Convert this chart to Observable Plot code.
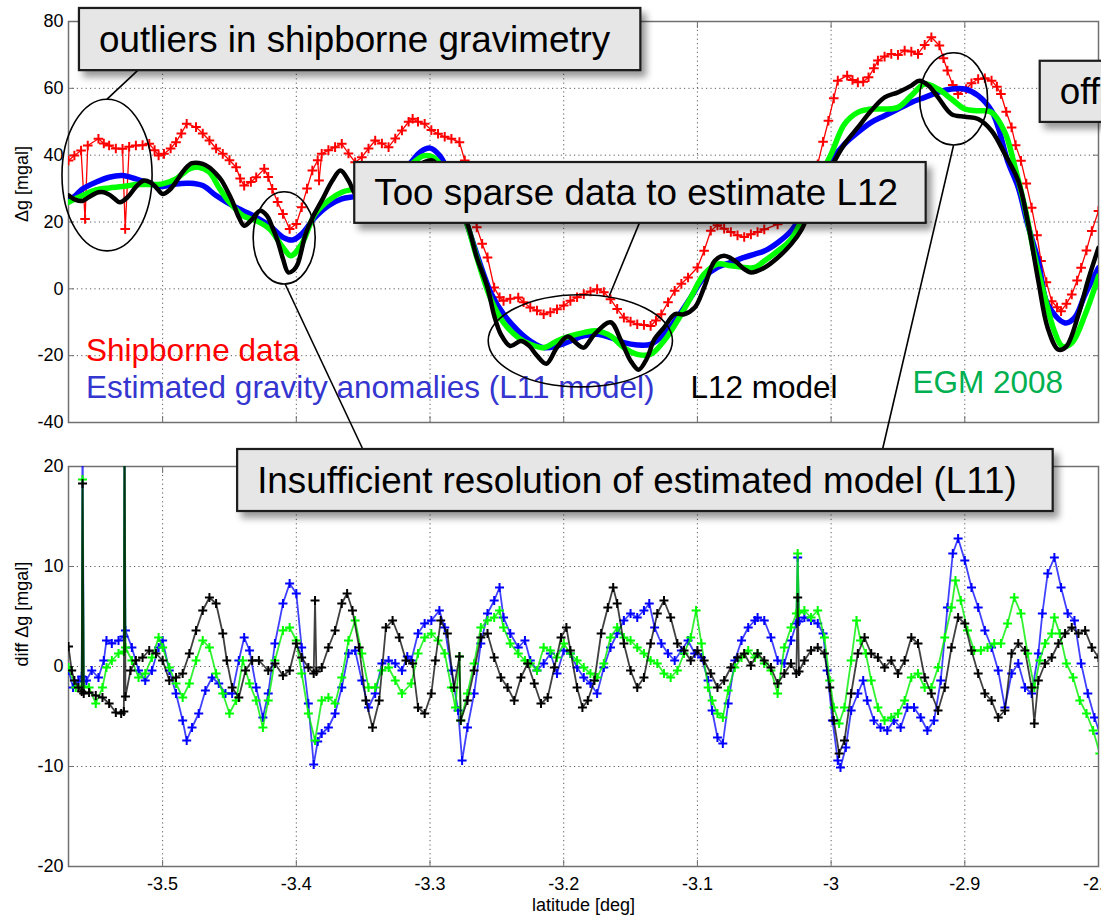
<!DOCTYPE html>
<html><head><meta charset="utf-8">
<script src="https://cdn.jsdelivr.net/npm/d3@7"></script>
<script src="https://cdn.jsdelivr.net/npm/@observablehq/plot@0.6"></script>
<style>
body{margin:0;background:#fff}
#fig{position:relative;width:1101px;height:919px;overflow:hidden;font-family:"Liberation Sans",Arial,Helvetica,sans-serif}
#fig svg{position:absolute;left:0}
</style>
</head><body><div id="fig"></div>
<script>
// ---------- tick labels ----------
const latTicks = [-3.5,-3.4,-3.3,-3.2,-3.1,-3.0,-2.9,-2.8];
const topTicks = [-40,-20,0,20,40,60,80];
const diffTicks = [-20,-10,0,10,20];

// ---------- top panel series: [latitude, Δg mgal] ----------
const shipTop = [[-3.5704,38.4],[-3.566,39.9],[-3.561,41.4],[-3.558,20.9],[-3.556,42.9],[-3.548,44.9],[-3.544,43.5],[-3.540,42.9],[-3.535,42.0],[-3.530,41.9],[-3.528,17.9],[-3.525,42.5],[-3.520,42.9],[-3.515,43.0],[-3.510,43.4],[-3.506,41.5],[-3.503,39.9],[-3.499,40.4],[-3.494,42.0],[-3.490,43.9],[-3.486,46.5],[-3.482,49.4],[-3.475,48.4],[-3.470,46.5],[-3.465,44.4],[-3.460,42.0],[-3.455,40.4],[-3.450,38.5],[-3.445,36.4],[-3.442,33.0],[-3.439,30.9],[-3.434,32.0],[-3.430,33.4],[-3.424,35.9],[-3.421,33.5],[-3.418,29.9],[-3.414,26.0],[-3.410,22.4],[-3.405,17.9],[-3.400,19.4],[-3.396,24.4],[-3.392,30.0],[-3.388,35.4],[-3.384,38.5],[-3.383,32.4],[-3.381,40.4],[-3.376,41.5],[-3.371,42.4],[-3.366,43.4],[-3.361,40.5],[-3.356,37.9],[-3.351,39.4],[-3.346,42.0],[-3.341,44.4],[-3.336,43.5],[-3.331,42.4],[-3.326,45.0],[-3.321,47.4],[-3.316,50.0],[-3.313,50.9],[-3.309,50.0],[-3.304,49.4],[-3.299,47.5],[-3.294,46.4],[-3.289,45.5],[-3.284,44.9],[-3.278,43.9],[-3.274,38.4],[-3.270,28.0],[-3.265,18.4],[-3.261,13.5],[-3.257,9.4],[-3.252,0.4],[-3.248,-2.5],[-3.245,-3.6],[-3.240,-3.0],[-3.234,-2.6],[-3.230,-4.0],[-3.225,-5.6],[-3.220,-6.5],[-3.215,-7.6],[-3.210,-7.0],[-3.205,-6.1],[-3.200,-5.0],[-3.195,-3.6],[-3.190,-2.5],[-3.185,-1.6],[-3.180,-0.8],[-3.175,-0.1],[-3.170,-1.0],[-3.165,-3.1],[-3.160,-6.0],[-3.155,-8.6],[-3.150,-9.8],[-3.145,-10.6],[-3.140,-10.8],[-3.135,-11.1],[-3.131,-9.5],[-3.127,-7.6],[-3.122,-4.0],[-3.117,-0.6],[-3.112,1.5],[-3.107,3.4],[-3.100,6.4],[-3.095,11.4],[-3.090,17.4],[-3.085,19.0],[-3.080,18.0],[-3.075,17.0],[-3.070,16.0],[-3.065,15.5],[-3.060,16.3],[-3.055,17.0],[-3.050,17.8],[-3.040,19.3],[-3.030,22.0],[-3.022,26.3],[-3.015,31.5],[-3.010,37.3],[-3.006,44.0],[-3.002,50.3],[-2.998,57.0],[-2.995,62.3],[-2.988,63.8],[-2.984,62.5],[-2.980,61.8],[-2.976,62.0],[-2.972,63.3],[-2.968,66.0],[-2.965,68.3],[-2.960,69.5],[-2.955,70.3],[-2.950,70.0],[-2.945,71.3],[-2.940,71.0],[-2.935,70.3],[-2.930,73.0],[-2.925,75.3],[-2.919,72.8],[-2.916,69.0],[-2.913,65.3],[-2.909,61.0],[-2.905,58.3],[-2.899,59.8],[-2.895,61.5],[-2.890,62.8],[-2.885,63.0],[-2.880,62.3],[-2.876,60.5],[-2.873,58.3],[-2.869,53.0],[-2.865,48.3],[-2.862,43.0],[-2.858,38.3],[-2.854,31.5],[-2.850,24.3],[-2.846,16.0],[-2.843,8.3],[-2.839,2.0],[-2.835,-3.7],[-2.831,-5.5],[-2.828,-6.7],[-2.824,-4.5],[-2.820,-1.7],[-2.816,2.5],[-2.813,6.3],[-2.809,11.5],[-2.805,17.3],[-2.800,23.3]];

const l11Top = [[-3.5704,26.4],[-3.565,28.0],[-3.560,29.9],[-3.550,31.9],[-3.540,33.4],[-3.530,33.9],[-3.520,32.9],[-3.510,31.6],[-3.500,30.6],[-3.490,31.4],[-3.480,31.6],[-3.470,30.9],[-3.460,27.9],[-3.450,25.4],[-3.440,23.4],[-3.430,21.4],[-3.420,18.9],[-3.410,15.4],[-3.403,14.6],[-3.396,16.4],[-3.386,21.4],[-3.376,24.9],[-3.366,26.9],[-3.356,27.6],[-3.345,28.5],[-3.335,30.5],[-3.325,33.5],[-3.315,37.5],[-3.307,41.0],[-3.300,42.1],[-3.293,40.0],[-3.285,34.0],[-3.278,26.0],[-3.272,19.0],[-3.265,10.4],[-3.254,-1.6],[-3.245,-7.6],[-3.234,-12.6],[-3.225,-15.6],[-3.215,-17.6],[-3.205,-17.1],[-3.195,-15.6],[-3.185,-14.1],[-3.175,-13.6],[-3.165,-14.6],[-3.155,-16.1],[-3.145,-16.8],[-3.135,-16.6],[-3.125,-13.6],[-3.115,-8.6],[-3.105,-2.6],[-3.095,3.4],[-3.085,6.4],[-3.075,7.9],[-3.065,9.4],[-3.057,10.4],[-3.050,11.3],[-3.040,13.8],[-3.030,17.3],[-3.020,23.3],[-3.010,31.3],[-3.000,38.3],[-2.990,43.3],[-2.980,46.8],[-2.970,49.8],[-2.960,51.8],[-2.950,53.8],[-2.940,55.8],[-2.930,57.3],[-2.920,58.8],[-2.910,59.8],[-2.900,59.8],[-2.890,57.8],[-2.880,53.3],[-2.875,48.3],[-2.868,38.3],[-2.860,30.3],[-2.853,19.3],[-2.845,8.3],[-2.838,-4.7],[-2.825,-10.2],[-2.818,-8.7],[-2.810,-1.7],[-2.800,6.3]];

const egmTop = [[-3.5704,25.9],[-3.560,27.9],[-3.550,29.6],[-3.540,30.2],[-3.530,30.6],[-3.520,31.2],[-3.510,31.2],[-3.500,31.4],[-3.490,32.9],[-3.480,35.9],[-3.473,36.4],[-3.465,34.9],[-3.458,30.4],[-3.450,25.9],[-3.440,21.9],[-3.430,20.4],[-3.420,17.9],[-3.410,12.4],[-3.404,9.9],[-3.396,13.4],[-3.386,22.4],[-3.376,26.4],[-3.366,28.9],[-3.356,29.9],[-3.345,31.0],[-3.335,32.5],[-3.325,34.5],[-3.315,37.0],[-3.305,39.8],[-3.298,39.5],[-3.290,36.0],[-3.280,27.0],[-3.272,19.0],[-3.265,9.4],[-3.254,-3.6],[-3.245,-10.1],[-3.234,-14.6],[-3.225,-16.6],[-3.215,-17.6],[-3.205,-15.6],[-3.195,-14.1],[-3.185,-13.1],[-3.175,-12.6],[-3.165,-14.1],[-3.155,-17.6],[-3.145,-19.6],[-3.135,-19.6],[-3.125,-15.6],[-3.115,-9.6],[-3.105,-2.6],[-3.095,4.4],[-3.085,7.4],[-3.075,6.9],[-3.065,6.4],[-3.057,6.4],[-3.050,8.3],[-3.040,11.3],[-3.030,14.8],[-3.020,22.3],[-3.010,32.3],[-3.000,40.3],[-2.990,49.3],[-2.980,52.8],[-2.970,53.8],[-2.960,53.8],[-2.950,54.3],[-2.940,57.8],[-2.930,61.3],[-2.920,59.8],[-2.910,56.8],[-2.900,53.8],[-2.890,53.3],[-2.880,52.8],[-2.870,46.8],[-2.863,37.3],[-2.855,24.3],[-2.848,10.3],[-2.840,-2.7],[-2.833,-12.7],[-2.827,-17.2],[-2.820,-16.2],[-2.810,-7.7],[-2.800,3.8]];

const l12Top = [[-3.5704,28.0],[-3.565,26.6],[-3.560,26.3],[-3.555,27.5],[-3.548,28.9],[-3.544,28.9],[-3.540,28.2],[-3.536,27.0],[-3.532,25.9],[-3.526,27.5],[-3.520,30.5],[-3.514,32.4],[-3.509,31.8],[-3.505,30.4],[-3.500,28.4],[-3.495,29.5],[-3.490,32.0],[-3.484,35.5],[-3.478,37.6],[-3.470,37.4],[-3.465,36.3],[-3.460,34.4],[-3.456,32.5],[-3.453,30.4],[-3.448,26.4],[-3.443,21.4],[-3.439,18.9],[-3.434,20.4],[-3.427,23.4],[-3.422,21.9],[-3.418,18.5],[-3.414,14.4],[-3.410,9.0],[-3.406,4.9],[-3.402,5.6],[-3.399,7.4],[-3.393,16.4],[-3.387,22.0],[-3.381,26.4],[-3.373,32.4],[-3.367,35.4],[-3.361,32.4],[-3.356,28.4],[-3.350,26.5],[-3.345,27.0],[-3.335,29.0],[-3.325,32.0],[-3.315,35.0],[-3.305,37.8],[-3.298,38.4],[-3.290,34.0],[-3.280,26.0],[-3.272,19.4],[-3.265,9.4],[-3.257,0.4],[-3.252,-8.0],[-3.247,-13.6],[-3.240,-17.1],[-3.232,-15.6],[-3.226,-17.0],[-3.220,-20.0],[-3.213,-22.4],[-3.205,-17.5],[-3.197,-14.3],[-3.190,-16.5],[-3.185,-17.6],[-3.177,-13.6],[-3.165,-10.0],[-3.157,-15.6],[-3.150,-21.5],[-3.144,-24.2],[-3.138,-21.0],[-3.132,-15.0],[-3.125,-11.6],[-3.117,-7.6],[-3.110,-7.6],[-3.102,-5.6],[-3.095,0.4],[-3.087,8.4],[-3.080,9.9],[-3.072,8.4],[-3.065,5.9],[-3.060,4.9],[-3.050,6.3],[-3.040,9.3],[-3.030,13.3],[-3.022,17.8],[-3.015,24.3],[-3.007,30.3],[-3.000,36.3],[-2.990,43.3],[-2.980,48.3],[-2.970,53.3],[-2.960,57.3],[-2.950,58.8],[-2.940,60.8],[-2.934,62.3],[-2.927,60.8],[-2.920,57.3],[-2.910,52.3],[-2.900,51.5],[-2.890,50.8],[-2.880,47.3],[-2.870,40.3],[-2.860,32.3],[-2.853,20.3],[-2.845,2.3],[-2.838,-11.7],[-2.830,-18.2],[-2.824,-17.2],[-2.815,-7.7],[-2.808,2.3],[-2.800,12.3]];

// ---------- bottom panel series: [latitude, diff Δg mgal] ----------
const l11Diff = [[-3.5704,-0.4],[-3.567,-2.1],[-3.563,-1.4],[-3.5605,-1.0],[-3.5599,25],[-3.5590,-1.5],[-3.557,-1.4],[-3.553,-0.4],[-3.548,-1.1],[-3.544,0.6],[-3.542,2.6],[-3.538,2.3],[-3.533,2.6],[-3.5290,3.0],[-3.5285,25],[-3.5278,3.6],[-3.523,1.9],[-3.518,-0.4],[-3.513,-1.4],[-3.508,-0.4],[-3.503,1.9],[-3.500,2.6],[-3.495,-0.4],[-3.490,-2.7],[-3.485,-5.4],[-3.482,-7.4],[-3.478,-6.1],[-3.473,-4.7],[-3.468,-2.4],[-3.463,-1.1],[-3.458,-1.7],[-3.453,-2.7],[-3.448,-2.7],[-3.443,0.6],[-3.439,2.9],[-3.435,1.6],[-3.430,-2.1],[-3.425,-5.1],[-3.421,-2.7],[-3.416,2.3],[-3.410,6.3],[-3.405,8.3],[-3.400,7.3],[-3.396,1.9],[-3.391,-3.7],[-3.387,-9.8],[-3.384,-7.5],[-3.381,-6.7],[-3.376,-6.1],[-3.371,-4.7],[-3.366,-2.1],[-3.361,1.3],[-3.356,1.6],[-3.351,-1.4],[-3.346,-4.1],[-3.341,-2.7],[-3.336,0.3],[-3.331,0.6],[-3.326,0.3],[-3.321,-0.4],[-3.317,1.0],[-3.314,0.6],[-3.309,3.3],[-3.304,4.3],[-3.299,4.6],[-3.293,5.6],[-3.289,3.9],[-3.284,-0.4],[-3.279,-4.4],[-3.276,-9.4],[-3.272,-6.1],[-3.267,-2.7],[-3.262,2.3],[-3.257,5.3],[-3.252,6.6],[-3.248,7.9],[-3.245,4.9],[-3.240,3.3],[-3.234,1.9],[-3.229,2.6],[-3.225,0.6],[-3.220,-0.4],[-3.215,0.3],[-3.210,1.3],[-3.205,-0.7],[-3.200,1.6],[-3.195,1.3],[-3.190,-0.1],[-3.185,-1.1],[-3.180,-1.7],[-3.175,-2.7],[-3.170,-0.1],[-3.165,1.9],[-3.160,3.3],[-3.155,4.6],[-3.150,5.3],[-3.145,4.9],[-3.140,5.6],[-3.136,6.3],[-3.132,3.9],[-3.127,2.3],[-3.122,1.3],[-3.117,0.6],[-3.112,1.6],[-3.107,2.6],[-3.102,1.3],[-3.097,0.9],[-3.092,-1.4],[-3.089,-4.4],[-3.085,-7.1],[-3.081,-7.7],[-3.077,-3.7],[-3.072,0.6],[-3.067,2.6],[-3.062,3.9],[-3.057,4.6],[-3.055,4.9],[-3.050,4.6],[-3.045,2.9],[-3.040,0.6],[-3.035,0.3],[-3.030,2.6],[-3.026,4.3],[-3.025,10.9],[-3.024,4.5],[-3.020,4.9],[-3.015,4.6],[-3.010,4.3],[-3.006,3.3],[-3.003,-0.4],[-2.999,-5.4],[-2.995,-9.4],[-2.993,-10.1],[-2.989,-8.1],[-2.985,-4.4],[-2.980,-2.7],[-2.976,-1.4],[-2.973,-3.4],[-2.968,-5.4],[-2.963,-6.1],[-2.958,-6.4],[-2.953,-5.4],[-2.948,-6.1],[-2.943,-4.1],[-2.938,-4.1],[-2.933,-5.1],[-2.928,-6.4],[-2.923,-5.4],[-2.918,-1.4],[-2.913,5.9],[-2.909,11.3],[-2.905,12.8],[-2.900,10.6],[-2.895,7.9],[-2.890,5.9],[-2.885,3.6],[-2.880,1.9],[-2.875,-0.4],[-2.870,-4.1],[-2.865,-0.7],[-2.860,0.3],[-2.855,-2.1],[-2.850,-2.7],[-2.845,1.3],[-2.842,5.3],[-2.838,9.3],[-2.833,10.9],[-2.828,7.9],[-2.823,5.3],[-2.818,4.6],[-2.813,0.3],[-2.808,-2.7],[-2.803,-5.1],[-2.799,-6.7]];

const egmDiff = [[-3.5704,-0.1],[-3.565,-2.1],[-3.5605,-2.0],[-3.5599,18.7],[-3.5590,-2.0],[-3.555,-2.1],[-3.550,-3.7],[-3.545,-2.1],[-3.542,-0.1],[-3.538,0.6],[-3.533,1.3],[-3.5290,1.5],[-3.5285,22],[-3.5278,1.9],[-3.523,0.6],[-3.518,-1.1],[-3.513,-0.7],[-3.508,0.9],[-3.503,2.9],[-3.500,1.9],[-3.495,-0.1],[-3.490,-1.7],[-3.485,-3.1],[-3.480,-1.7],[-3.475,0.6],[-3.470,2.6],[-3.465,1.9],[-3.460,-0.7],[-3.455,-2.7],[-3.450,-4.7],[-3.445,-3.4],[-3.440,0.6],[-3.435,-1.7],[-3.430,-3.4],[-3.425,-6.1],[-3.421,-3.4],[-3.416,0.6],[-3.410,3.6],[-3.405,3.9],[-3.400,2.6],[-3.396,-0.7],[-3.391,-4.7],[-3.386,-7.4],[-3.381,-3.4],[-3.376,-3.1],[-3.371,-3.7],[-3.366,-1.1],[-3.361,2.6],[-3.356,4.6],[-3.351,1.3],[-3.346,-2.1],[-3.341,-2.1],[-3.336,-0.4],[-3.331,-0.1],[-3.326,-1.4],[-3.321,-2.7],[-3.314,-1.7],[-3.309,1.3],[-3.304,2.9],[-3.299,3.3],[-3.294,2.6],[-3.289,1.3],[-3.284,-2.1],[-3.281,-4.1],[-3.278,1.0],[-3.277,-5.4],[-3.272,-2.7],[-3.267,0.3],[-3.262,3.9],[-3.257,4.6],[-3.252,4.9],[-3.248,5.6],[-3.245,3.9],[-3.240,2.3],[-3.234,1.3],[-3.229,0.6],[-3.225,0.3],[-3.220,-0.4],[-3.215,1.9],[-3.210,1.6],[-3.205,0.9],[-3.200,2.3],[-3.195,1.3],[-3.190,0.6],[-3.185,-0.1],[-3.180,-0.7],[-3.175,-1.1],[-3.170,0.3],[-3.165,2.9],[-3.160,3.9],[-3.155,2.9],[-3.150,2.6],[-3.145,1.9],[-3.140,1.3],[-3.135,0.6],[-3.130,0.3],[-3.125,-0.7],[-3.120,-1.1],[-3.115,-0.4],[-3.110,1.3],[-3.105,2.9],[-3.101,5.6],[-3.097,2.3],[-3.092,-2.1],[-3.089,-3.4],[-3.085,-4.7],[-3.081,-5.1],[-3.077,-2.4],[-3.072,-0.1],[-3.067,0.9],[-3.062,1.6],[-3.057,0.9],[-3.055,1.3],[-3.050,0.3],[-3.045,-0.4],[-3.040,-2.7],[-3.035,1.9],[-3.030,3.9],[-3.026,5.3],[-3.025,11.3],[-3.024,5.4],[-3.020,5.6],[-3.015,4.9],[-3.010,5.6],[-3.005,2.9],[-3.001,-1.4],[-2.998,-4.1],[-2.994,-5.7],[-2.990,-4.1],[-2.985,0.6],[-2.981,4.6],[-2.978,2.6],[-2.974,1.3],[-2.970,-1.4],[-2.965,-4.1],[-2.960,-5.4],[-2.955,-5.1],[-2.950,-4.7],[-2.945,-3.4],[-2.940,-1.1],[-2.935,-0.7],[-2.930,-2.1],[-2.925,-2.1],[-2.920,-0.1],[-2.915,2.9],[-2.910,5.9],[-2.907,8.6],[-2.903,6.6],[-2.898,3.6],[-2.893,1.6],[-2.888,1.6],[-2.883,1.9],[-2.878,2.3],[-2.873,2.3],[-2.868,4.3],[-2.863,6.9],[-2.858,5.3],[-2.853,1.3],[-2.848,-2.1],[-2.844,0.6],[-2.840,2.3],[-2.835,3.3],[-2.833,4.9],[-2.829,3.3],[-2.824,0.3],[-2.819,-1.1],[-2.814,-3.4],[-2.809,-4.7],[-2.804,-6.4],[-2.799,-8.7]];

const l12Diff = [[-3.5704,2.0],[-3.568,-0.4],[-3.566,-1.4],[-3.563,-2.1],[-3.5605,-2.5],[-3.5599,18.3],[-3.5590,-2.7],[-3.555,-2.6],[-3.550,-2.9],[-3.545,-3.1],[-3.540,-3.7],[-3.535,-4.6],[-3.531,-4.7],[-3.5290,-4.5],[-3.5285,24],[-3.5278,-3.0],[-3.524,-0.4],[-3.520,0.6],[-3.515,0.9],[-3.510,1.6],[-3.505,1.3],[-3.500,0.6],[-3.495,-1.4],[-3.490,-1.1],[-3.485,-0.7],[-3.480,1.3],[-3.475,3.6],[-3.470,5.6],[-3.465,6.9],[-3.460,6.3],[-3.455,3.3],[-3.452,0.6],[-3.448,-2.1],[-3.443,-3.1],[-3.438,-0.4],[-3.433,0.6],[-3.428,0.6],[-3.421,-0.4],[-3.416,0.3],[-3.410,-0.9],[-3.405,-0.4],[-3.400,2.3],[-3.396,0.9],[-3.391,-0.1],[-3.387,-0.7],[-3.386,6.6],[-3.385,-0.5],[-3.381,-0.1],[-3.376,1.9],[-3.371,3.6],[-3.366,6.3],[-3.362,7.3],[-3.358,5.6],[-3.353,1.9],[-3.348,-3.4],[-3.343,-6.1],[-3.338,-3.4],[-3.333,3.9],[-3.328,4.6],[-3.323,2.9],[-3.318,0.6],[-3.313,0.3],[-3.309,-4.1],[-3.304,-4.7],[-3.299,-2.7],[-3.296,0.6],[-3.292,4.6],[-3.287,3.3],[-3.282,-2.1],[-3.278,1.0],[-3.277,-5.4],[-3.272,-3.4],[-3.267,-0.4],[-3.262,2.9],[-3.257,3.3],[-3.252,0.9],[-3.247,-1.1],[-3.242,-2.1],[-3.237,-3.4],[-3.232,-1.1],[-3.227,0.3],[-3.222,-1.7],[-3.217,-3.7],[-3.212,-3.1],[-3.207,-0.1],[-3.202,2.9],[-3.198,3.9],[-3.195,1.6],[-3.190,-2.1],[-3.186,-4.1],[-3.182,-3.4],[-3.177,-1.4],[-3.172,3.3],[-3.167,5.9],[-3.163,7.9],[-3.160,6.3],[-3.155,2.3],[-3.150,-0.4],[-3.145,-2.1],[-3.140,-1.1],[-3.135,2.3],[-3.130,5.3],[-3.125,6.6],[-3.120,4.9],[-3.115,2.3],[-3.110,1.6],[-3.105,0.6],[-3.100,1.6],[-3.095,0.6],[-3.090,-0.7],[-3.085,-2.1],[-3.080,-1.4],[-3.075,-0.1],[-3.070,0.9],[-3.065,1.3],[-3.060,0.1],[-3.055,1.3],[-3.050,0.6],[-3.045,-0.1],[-3.040,-1.7],[-3.035,-0.7],[-3.030,0.3],[-3.026,-0.7],[-3.025,6.9],[-3.024,-0.5],[-3.020,0.6],[-3.015,1.6],[-3.010,1.9],[-3.005,1.3],[-3.001,-2.1],[-2.998,-5.4],[-2.994,-8.7],[-2.990,-7.4],[-2.985,-2.7],[-2.980,1.3],[-2.975,2.9],[-2.970,1.3],[-2.965,0.9],[-2.960,-0.1],[-2.955,0.6],[-2.950,-0.7],[-2.945,0.6],[-2.940,2.9],[-2.935,2.3],[-2.930,-1.1],[-2.925,-2.7],[-2.920,-4.4],[-2.915,-2.1],[-2.910,1.9],[-2.905,4.9],[-2.900,4.3],[-2.895,1.6],[-2.890,-0.7],[-2.885,-2.7],[-2.880,-3.4],[-2.875,-5.1],[-2.870,-4.4],[-2.865,1.3],[-2.860,2.3],[-2.855,1.6],[-2.850,-2.1],[-2.848,-5.7],[-2.845,-1.4],[-2.840,0.3],[-2.835,0.9],[-2.830,2.3],[-2.825,3.3],[-2.820,3.9],[-2.815,3.3],[-2.810,3.6],[-2.805,1.9],[-2.800,0.9]];

// ---------- annotation texts ----------
const legendTexts = [
  {text:"Shipborne data", lat:-3.5569, v:-21.7, color:"#ff0000"},
  {text:"Estimated gravity anomalies (L11 model)", lat:-3.5569, v:-32.8, color:"#3535d0"},
  {text:"L12 model", lat:-3.1048, v:-32.8, color:"#000000"},
  {text:"EGM 2008", lat:-2.9387, v:-31.3, color:"#00b050"}
];
const boxNotes = [
  {panel:"top", lat0:-3.5622, lat1:-3.1423, v0:83.9, v1:65.3, text:"outliers in shipborne gravimetry"},
  {panel:"top", lat0:-3.3563, lat1:-2.9289, v0:37.8, v1:19.6, text:"Too sparse data to estimate L12"},
  {panel:"bottom", lat0:-3.4439, lat1:-2.8339, v0:21.7, v1:15.5, text:"Insufficient resolution of estimated model (L11)"},
  {panel:"top", lat0:-2.8436, lat1:-2.7755, v0:68.1, v1:49.8, text:"offset"}
];
const ellipseNotes = [
  {lat:-3.5412, v:33.9, rlat:0.0337, rv:22.7},
  {lat:-3.4087, v:15.1, rlat:0.0232, rv:13.8},
  {lat:-3.1872, v:-15.7, rlat:0.0689, rv:13.8},
  {lat:-2.9080, v:56.7, rlat:0.0254, rv:13.8}
];
const leaderNotes = [
  [{p:"top",lat:-3.5180,v:65.3},{p:"top",lat:-3.5412,v:56.6}],
  [{p:"top",lat:-3.4080,v:1.3},{p:"bottom",lat:-3.3503,v:21.8}],
  [{p:"top",lat:-3.1430,v:19.6},{p:"top",lat:-3.1655,v:-2.2}],
  [{p:"top",lat:-2.9080,v:42.9},{p:"bottom",lat:-2.9611,v:21.7}]
];

// ---------- common ----------
const FONT = '"Liberation Sans", Arial, Helvetica, sans-serif';
const xDomain = [-3.5704, -2.8];
const AX = "#707070";
const fmt = d => String(+d.toFixed(1));
const gridStyle = {stroke:"#333", strokeOpacity:0.8, strokeDasharray:"1.2,3.2", strokeWidth:1};
const px = d => d[0], py = d => d[1];

function frameMarks(yTicks, showXLabels) {
  const inner = yTicks.slice(1, -1);
  return [
    Plot.gridX(latTicks.slice(0, -1), gridStyle),
    Plot.gridY(inner, gridStyle),
    Plot.axisY(yTicks, {anchor:"left", tickSize:-6, tickPadding:11, tickFormat:fmt, label:null, stroke:AX, fill:"#000", fontSize:18}),
    Plot.axisY(yTicks, {anchor:"right", tickSize:-6, tickFormat:()=>"", label:null, stroke:AX}),
    Plot.axisX(latTicks, {anchor:"bottom", tickSize:-6, tickPadding:17, tickFormat: showXLabels ? fmt : ()=>"", label:null, stroke:AX, fill:"#000", fontSize:18}),
    Plot.axisX(latTicks, {anchor:"top", tickSize:-6, tickFormat:()=>"", label:null, stroke:AX}),
    Plot.frame({stroke:AX, strokeWidth:1.5})
  ];
}

const topPlot = Plot.plot({
  width:1101, height:440,
  marginLeft:68, marginRight:3, marginTop:21, marginBottom:18,
  style:{fontFamily:FONT, fontSize:"18px", background:"transparent", overflow:"visible"},
  x:{domain:xDomain},
  y:{domain:[-40,80]},
  marks:[
    ...frameMarks(topTicks, false),
    Plot.line(shipTop, {x:px, y:py, stroke:"#ff0000", strokeWidth:1.3, clip:true}),
    Plot.dot(shipTop, {x:px, y:py, symbol:"plus", r:3.2, stroke:"#ff0000", strokeWidth:2, clip:true}),
    Plot.line(l11Top, {x:px, y:py, stroke:"#0000ff", strokeWidth:5.5, curve:"catmull-rom", clip:true}),
    Plot.line(egmTop, {x:px, y:py, stroke:"#00ff00", strokeWidth:5.5, curve:"catmull-rom", clip:true}),
    Plot.line(l12Top, {x:px, y:py, stroke:"#000000", strokeWidth:4.5, curve:"catmull-rom", clip:true}),
    Plot.text(["Δg [mgal]"], {text:d=>d, frameAnchor:"left", dx:-46, rotate:-90, fontSize:18})
  ]
});

const botPlot = Plot.plot({
  width:1101, height:479,
  marginLeft:68, marginRight:3, marginTop:26, marginBottom:53,
  style:{fontFamily:FONT, fontSize:"18px", background:"transparent", overflow:"visible"},
  x:{domain:xDomain},
  y:{domain:[-20,20]},
  marks:[
    ...frameMarks(diffTicks, true),
    Plot.line(l11Diff, {x:px, y:py, stroke:"#0000ff", strokeOpacity:0.75, strokeWidth:1.8, clip:true}),
    Plot.dot(l11Diff, {x:px, y:py, symbol:"plus", r:3, stroke:"#0000ff", strokeWidth:2, clip:true}),
    Plot.line(egmDiff, {x:px, y:py, stroke:"#00ee00", strokeOpacity:0.8, strokeWidth:1.8, clip:true}),
    Plot.dot(egmDiff, {x:px, y:py, symbol:"plus", r:3, stroke:"#00ff00", strokeWidth:2, clip:true}),
    Plot.line(l12Diff, {x:px, y:py, stroke:"#000000", strokeOpacity:0.75, strokeWidth:1.8, clip:true}),
    Plot.dot(l12Diff, {x:px, y:py, symbol:"plus", r:3, stroke:"#000000", strokeWidth:2, clip:true}),
    Plot.text(["diff Δg [mgal]"], {text:d=>d, frameAnchor:"left", dx:-46, rotate:-90, fontSize:18}),
    Plot.text(["latitude [deg]"], {text:d=>d, frameAnchor:"bottom", dy:44, fontSize:18})
  ]
});

const fig = document.getElementById("fig");
topPlot.style.top = "0px";
botPlot.style.top = "440px";
fig.appendChild(topPlot);
fig.appendChild(botPlot);

// ---------- annotation overlay (positions mapped through the plot scales) ----------
const sx = topPlot.scale("x"), syT = topPlot.scale("y"), syB = botPlot.scale("y");
const X = lat => sx.apply(lat);
const Y = (p, v) => p === "top" ? syT.apply(v) : syB.apply(v) + 440;

const ov = d3.create("svg").attr("width",1101).attr("height",919)
  .style("position","absolute").style("left","0px").style("top","0px")
  .style("font-family", FONT);
const defs = ov.append("defs");
const f = defs.append("filter").attr("id","shadow").attr("x","-10%").attr("y","-30%").attr("width","130%").attr("height","180%");
f.append("feDropShadow").attr("dx",5).attr("dy",6).attr("stdDeviation",3.5)
  .attr("flood-color","#000").attr("flood-opacity",0.4);

for (const t of legendTexts) {
  ov.append("text").attr("x", X(t.lat)).attr("y", Y("top", t.v))
    .attr("font-size", 31.5).attr("fill", t.color).text(t.text);
}
for (const [a, b] of leaderNotes) {
  ov.append("line").attr("x1", X(a.lat)).attr("y1", Y(a.p, a.v))
    .attr("x2", X(b.lat)).attr("y2", Y(b.p, b.v))
    .attr("stroke","#000").attr("stroke-width",1.6);
}
for (const e of ellipseNotes) {
  const cx = X(e.lat), cy = Y("top", e.v);
  ov.append("ellipse").attr("cx", cx).attr("cy", cy)
    .attr("rx", Math.abs(X(e.lat + e.rlat) - cx))
    .attr("ry", Math.abs(Y("top", e.v + e.rv) - cy))
    .attr("fill","none").attr("stroke","#000").attr("stroke-width",1.6);
}
for (const b of boxNotes) {
  const x0 = X(b.lat0), x1 = X(b.lat1), y0 = Y(b.panel, b.v0), y1 = Y(b.panel, b.v1);
  const g = ov.append("g");
  g.append("rect").attr("x", x0).attr("y", y0).attr("width", x1 - x0).attr("height", y1 - y0)
    .attr("fill","#e6e6e6").attr("stroke","#1a1a1a").attr("stroke-width",2.2)
    .attr("filter","url(#shadow)");
  g.append("text").attr("x", x0 + 20).attr("y", (y0 + y1) / 2 + 13)
    .attr("font-size", 36.8).attr("fill","#000").text(b.text);
}
fig.appendChild(ov.node());
</script>
</body></html>
